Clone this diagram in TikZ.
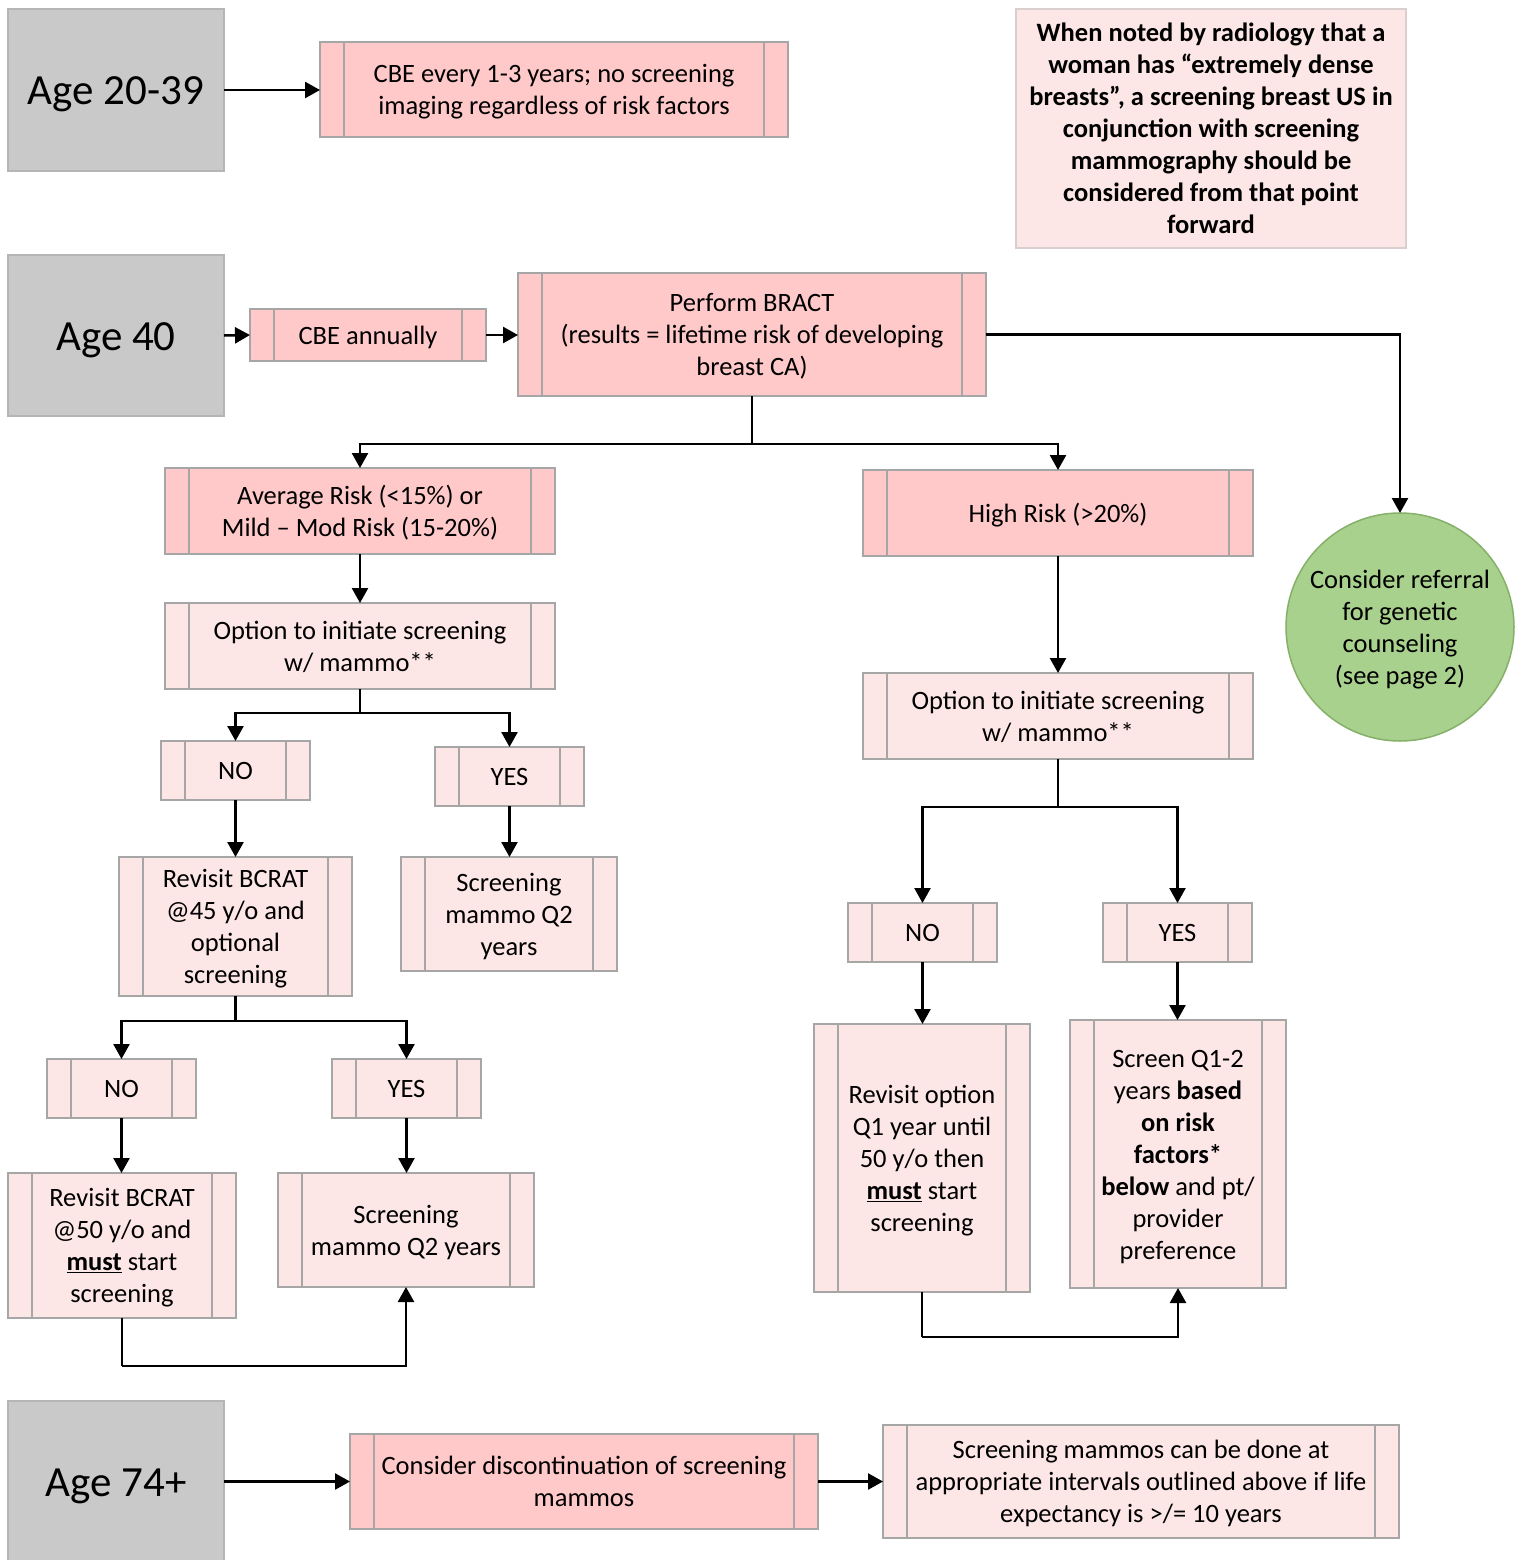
\documentclass[tikz,border=0pt]{standalone}
\usepackage{fontspec}
\setmainfont{Carlito}
\usetikzlibrary{arrows.meta,calc}
\definecolor{agegray}{HTML}{C9C9C9}
\definecolor{ageborder}{HTML}{B5B5B5}
\definecolor{darkpink}{HTML}{FFC9C9}
\definecolor{lightpink}{HTML}{FDE6E6}
\definecolor{pborder}{HTML}{A6A6A6}
\definecolor{notebord}{HTML}{D9CFCF}
\definecolor{greenfill}{HTML}{A9D18E}
\definecolor{greenbord}{HTML}{86B06A}
\newcommand\tb[1]{\rule{0pt}{28pt}#1\rule[-9.6pt]{0pt}{0pt}}
\tikzset{
  struts/.style 2 args={execute at begin node={\rule{0pt}{#1pt}}, execute at end node={\rule[-#2pt]{0pt}{0pt}}},
  base/.style={draw=pborder, line width=2pt, inner sep=0pt, outer sep=0pt, align=center,
    font=\fontsize{26.5}{32}\selectfont},
  pp/.style={base, path picture={
      \draw[pborder, line width=2pt]
        ([xshift=24pt]path picture bounding box.north west) -- ([xshift=24pt]path picture bounding box.south west)
        ([xshift=-24pt]path picture bounding box.north east) -- ([xshift=-24pt]path picture bounding box.south east);}},
  dk/.style={pp, fill=darkpink},
  lt/.style={pp, fill=lightpink},
  agebox/.style={draw=ageborder, line width=2pt, fill=agegray, inner sep=0pt, outer sep=0pt,
    minimum width=216pt, font=\fontsize{43}{50}\selectfont, struts={41}{11.5}},
  sz/.style 2 args={minimum width=#1pt, minimum height=#2pt},
  arr/.style={line width=2.5pt, -{Triangle[length=15pt,width=16pt]}},
  ln/.style={line width=2.5pt}
}
\begin{document}
\begin{tikzpicture}[x=1pt,y=-1pt]
\useasboundingbox (0,0) rectangle (1525,1560);
% age boxes
\node[agebox, minimum height=162pt] (age1) at (116,90) {Age 20-39};
\node[agebox, minimum height=161pt] (age2) at (116,335.5) {Age 40};
\node[agebox, minimum height=161pt] (age3) at (116,1481.5) {Age 74+};
% top row
\node[dk, sz={468}{95}] (cbe1) at (554,89.5) {\tb{CBE every 1-3 years; no screening\\imaging regardless of risk factors}};
\node[base, draw=notebord, fill=lightpink, sz={390}{239}, font=\fontsize{26.5}{32}\selectfont\bfseries] (note) at (1211,128.5)
  {\tb{When noted by radiology that a\\woman has “extremely dense\\breasts”, a screening breast US in\\conjunction with screening\\mammography should be\\considered from that point\\forward}};
% age 40 row
\node[dk, sz={236}{52}] (cbe2) at (368,335) {\tb{CBE annually}};
\node[dk, sz={468}{123}] (bract) at (752,334.5) {\tb{Perform BRACT\\(results = lifetime risk of developing\\breast CA)}};
\node[dk, sz={390}{86}] (avg) at (360,511) {\tb{Average Risk (<15\%) or\\Mild – Mod Risk (15-20\%)}};
\node[dk, sz={390}{86}] (high) at (1058,513) {\tb{High Risk (>20\%)}};
\node[circle, draw=greenbord, line width=1.5pt, fill=greenfill, minimum size=228pt, inner sep=0pt, outer sep=0pt,
  align=center, font=\fontsize{26.5}{32}\selectfont] (circ) at (1400,627)
  {\tb{Consider referral\\for genetic\\counseling\\(see page 2)}};
% left branch
\node[lt, sz={390}{86}] (optL) at (360,646) {\tb{Option to initiate screening\\w/ mammo**}};
\node[lt, sz={149}{59}] (noL1) at (235.5,770.5) {\tb{NO}};
\node[lt, sz={149}{59}] (yesL1) at (509.5,776.5) {\tb{YES}};
\node[lt, sz={233}{139}] (rev45) at (235.5,926.5) {\tb{Revisit BCRAT\\@45 y/o and\\optional\\screening}};
\node[lt, sz={216}{114}] (scr1) at (509,914) {\tb{Screening\\mammo Q2\\years}};
\node[lt, sz={149}{59}] (noL2) at (121.5,1088.5) {\tb{NO}};
\node[lt, sz={149}{59}] (yesL2) at (406.5,1088.5) {\tb{YES}};
\node[lt, sz={228}{145}] (rev50) at (122,1245.5) {\tb{Revisit BCRAT\\@50 y/o and\\\underline{\textbf{must}} start\\screening}};
\node[lt, sz={256}{114}] (scr2) at (406,1230) {\tb{Screening\\mammo Q2 years}};
% right branch
\node[lt, sz={390}{86}] (optR) at (1058,716) {\tb{Option to initiate screening\\w/ mammo**}};
\node[lt, sz={149}{59}] (noR) at (922.5,932.5) {\tb{NO}};
\node[lt, sz={149}{59}] (yesR) at (1177.5,932.5) {\tb{YES}};
\node[lt, sz={216}{268}] (revQ1) at (922,1158) {\tb{Revisit option\\Q1 year until\\50 y/o then\\\underline{\textbf{must}} start\\screening}};
\node[lt, sz={216}{268}] (scrQ) at (1178,1154) {\tb{Screen Q1-2\\years \textbf{based}\\\textbf{on risk}\\\textbf{factors*}\\\textbf{below} and pt/\\provider\\preference}};
% bottom row
\node[dk, sz={468}{95}] (disc) at (584,1481.5) {\tb{Consider discontinuation of screening\\mammos}};
\node[lt, sz={516}{113}] (life) at (1141,1481.5) {\tb{Screening mammos can be done at\\appropriate intervals outlined above if life\\expectancy is >/= 10 years}};
% junctions
\coordinate (j1) at (752,444);
\coordinate (j2) at (360,713);
\coordinate (j3) at (235.5,1021);
\coordinate (j4) at (122,1366);
\coordinate (j5) at (1058,807);
\coordinate (j6) at (922,1337);
% connectors
\draw[arr] (age1.east) -- (cbe1.west |- age1.east);
\draw[arr] (age2.east) -- (cbe2.west);
\draw[arr] (cbe2.east) -- (bract.west |- cbe2.east);
\draw[arr] (bract.east) -| (circ.north);
\draw[ln] (bract.south) -- (j1);
\draw[arr] (j1) -| (avg.north);
\draw[arr] (j1) -| (high.north);
\draw[arr] (avg.south) -- (optL.north);
\draw[ln] (optL.south) -- (j2);
\draw[arr] (j2) -| (noL1.north);
\draw[arr] (j2) -| (yesL1.north);
\draw[arr] (noL1.south) -- (rev45.north);
\draw[arr] (yesL1.south) -- (scr1.north -| yesL1.south);
\draw[ln] (rev45.south) -- (j3);
\draw[arr] (j3) -| (noL2.north);
\draw[arr] (j3) -| (yesL2.north);
\draw[arr] (noL2.south) -- (rev50.north -| noL2.south);
\draw[arr] (yesL2.south) -- (scr2.north -| yesL2.south);
\draw[ln] (rev50.south) -- (j4);
\draw[arr] (j4) -| (scr2.south);
\draw[arr] (high.south) -- (optR.north);
\draw[ln] (optR.south) -- (j5);
\draw[arr] (j5) -| (noR.north);
\draw[arr] (j5) -| (yesR.north);
\draw[arr] (noR.south) -- (revQ1.north -| noR.south);
\draw[arr] (yesR.south) -- (scrQ.north -| yesR.south);
\draw[ln] (revQ1.south) -- (j6);
\draw[arr] (j6) -| (scrQ.south);
\draw[arr] (age3.east |- disc.west) -- (disc.west);
\draw[arr] (disc.east) -- (life.west);
\end{tikzpicture}
\end{document}
